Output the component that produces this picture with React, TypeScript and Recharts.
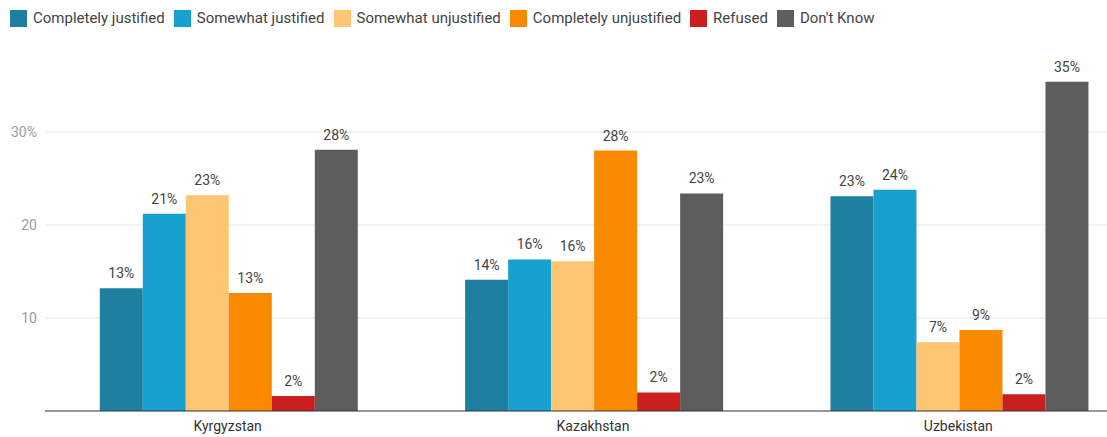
import React from "react";
import {
  BarChart,
  Bar,
  XAxis,
  YAxis,
  CartesianGrid,
  LabelList,
} from "recharts";

const countries = ["Kyrgyzstan", "Kazakhstan", "Uzbekistan"];
const completelyJustified = [13.2, 14.1, 23.1];
const somewhatJustified = [21.2, 16.3, 23.8];
const somewhatUnjustified = [23.2, 16.1, 7.4];
const completelyUnjustified = [12.7, 28.0, 8.7];
const refused = [1.6, 2.0, 1.8];
const dontKnow = [28.1, 23.4, 35.4];
const yTicks = [10, 20, 30];

const SERIES = [
  { key: "cj", name: "Completely justified", color: "#1f7fa1", values: completelyJustified },
  { key: "sj", name: "Somewhat justified", color: "#18a0cf", values: somewhatJustified },
  { key: "su", name: "Somewhat unjustified", color: "#fec572", values: somewhatUnjustified },
  { key: "cu", name: "Completely unjustified", color: "#f98a00", values: completelyUnjustified },
  { key: "rf", name: "Refused", color: "#cb1e1e", values: refused },
  { key: "dk", name: "Don't Know", color: "#5d5d5d", values: dontKnow },
];

const data = countries.map((c, i) => {
  const row: Record<string, string | number> = { country: c };
  SERIES.forEach((s) => {
    row[s.key] = s.values[i];
  });
  return row;
});

const ChartLegend = () => (
  <div
    style={{
      position: "absolute",
      top: 9,
      left: 10,
      display: "flex",
      alignItems: "center",
      fontSize: 15,
      color: "#444",
      whiteSpace: "nowrap",
      zIndex: 1,
    }}
  >
    {SERIES.map((s) => (
      <div key={s.key} style={{ display: "flex", alignItems: "center", marginRight: 9 }}>
        <span
          style={{
            width: 17,
            height: 17,
            background: s.color,
            display: "inline-block",
            marginRight: 6,
          }}
        />
        <span>{s.name}</span>
      </div>
    ))}
  </div>
);

export default function App() {
  return (
    <div
      style={{
        position: "absolute",
        top: 0,
        left: 0,
        width: 1107,
        height: 437,
        overflow: "hidden",
        background: "#fff",
        fontFamily: "Roboto, sans-serif",
      }}
    >
      <ChartLegend />
      <BarChart
        width={1141}
        height={437}
        data={data}
        margin={{ top: 39, right: 0, left: 0, bottom: 0 }}
        barCategoryGap="15%"
        barGap={0}
      >
        <CartesianGrid
          horizontal
          vertical={false}
          stroke="#e6e6e6"
          horizontalValues={yTicks}
        />
        <XAxis
          dataKey="country"
          height={26}
          tickLine={false}
          axisLine={{ stroke: "#333" }}
          tick={{ fill: "#333", fontSize: 14 }}
          tickMargin={4}
        />
        <YAxis
          width={45}
          domain={[0, 40]}
          ticks={yTicks}
          axisLine={false}
          tickLine={false}
          tick={{ fill: "#9a9a9a", fontSize: 14 }}
          tickFormatter={(v: number) => (v === 30 ? `${v}%` : `${v}`)}
        />
        {SERIES.map((s) => (
          <Bar key={s.key} dataKey={s.key} name={s.name} fill={s.color} isAnimationActive={false}>
            <LabelList
              dataKey={s.key}
              position="top"
              offset={10}
              fill="#444"
              fontSize={14}
              formatter={(v: number) => `${Math.round(v)}%`}
            />
          </Bar>
        ))}
      </BarChart>
    </div>
  );
}
